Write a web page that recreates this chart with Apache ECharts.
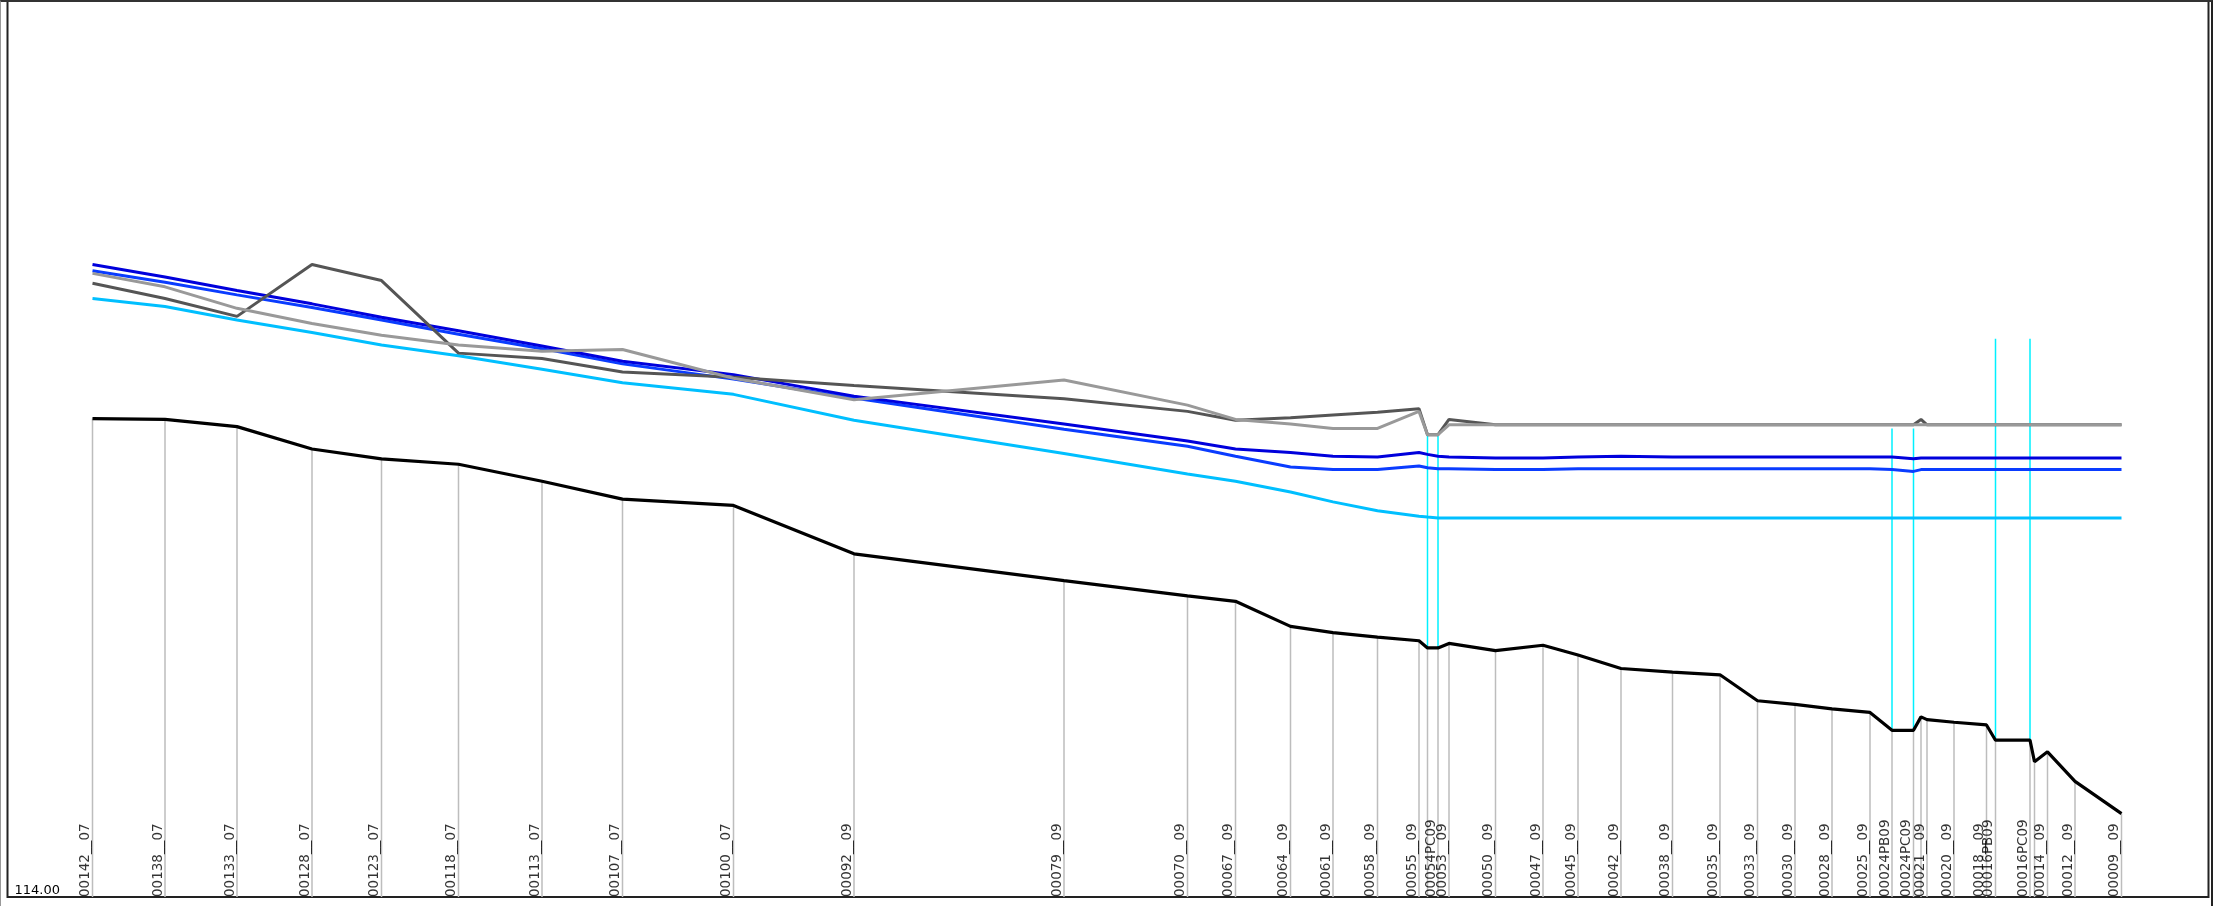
<!DOCTYPE html>
<html>
<head>
<meta charset="utf-8">
<script src="https://cdn.jsdelivr.net/npm/echarts@6/dist/echarts.min.js"></script>
<style>
  html, body { margin: 0; padding: 0; background: #fff; }
  #chart { position: absolute; left: 0; top: 0; width: 2215px; height: 906px; }
  #frame { position: absolute; left: 0; top: 0; width: 2213px; height: 906px; box-sizing: border-box;
           border-top: 2px solid #333; border-left: 1px solid #999; border-right: 2px solid #222; pointer-events: none; }
</style>
</head>
<body>
<div id="chart"></div>
<div id="frame"></div>
<script>
// Station names (empty = unlabeled node)
const stationNames = ['00142__07','00138__07','00133__07','00128__07','00123__07','00118__07','00113__07','00107__07','00100__07',
  '00092__09','00079__09','00070__09','00067__09','00064__09','00061__09','00058__09','00055__09','','00054PC09','00053__09',
  '00050__09','00047__09','00045__09','00042__09','00038__09','00035__09','00033__09','00030__09','00028__09','00025__09',
  '00024PB09','00024PC09','','00021__09','00020__09','00018__09','00016PB09','00016PC09','','00014__09','00012__09','00009__09'];

// Chainage of each station (m)
const distance = [170,315,459,609,748,902,1069,1230,1452,1693,2113,2360,2456,2566,2651,2740,2823,2840,2861,2883,
  2976,3071,3141,3227,3330,3425,3500,3575,3649,3725,3769,3812,3827,3839,3893,3958,3976,4045,4054,4080,4135,4228];

// Invert / bottom profile (black)
const invert = [119.34,119.33,119.25,119.00,118.89,118.83,118.64,118.44,118.37,117.83,117.53,117.36,117.30,117.02,116.95,116.90,116.86,116.78,116.78,116.83,
  116.75,116.81,116.70,116.55,116.51,116.48,116.19,116.15,116.10,116.06,115.86,115.86,116.01,115.98,115.95,115.92,115.75,115.75,115.51,115.62,115.29,114.93];

// Dark blue level
const levelDarkBlue = [121.06,120.92,120.77,120.62,120.47,120.32,120.15,119.98,119.83,119.59,119.28,119.09,119.00,118.96,118.92,118.91,118.96,118.94,118.92,118.91,
  118.90,118.90,118.91,118.92,118.91,118.91,118.91,118.91,118.91,118.91,118.91,118.89,118.90,118.90,118.90,118.90,118.90,118.90,118.90,118.90,118.90,118.90];

// Blue level
const levelBlue = [120.99,120.86,120.72,120.58,120.44,120.28,120.12,119.95,119.78,119.57,119.22,119.03,118.92,118.80,118.77,118.77,118.81,118.79,118.78,118.78,
  118.77,118.77,118.78,118.78,118.78,118.78,118.78,118.78,118.78,118.78,118.77,118.75,118.77,118.77,118.77,118.77,118.77,118.77,118.77,118.77,118.77,118.77];

// Light blue level
const levelCyan = [120.68,120.59,120.44,120.30,120.16,120.04,119.89,119.74,119.61,119.32,118.95,118.72,118.64,118.52,118.41,118.31,118.25,118.24,118.23,118.23,
  118.23,118.23,118.23,118.23,118.23,118.23,118.23,118.23,118.23,118.23,118.23,118.23,118.23,118.23,118.23,118.23,118.23,118.23,118.23,118.23,118.23,118.23];

// Dark gray level
const levelDarkGray = [120.85,120.68,120.48,121.06,120.88,120.07,120.01,119.86,119.80,119.71,119.56,119.42,119.32,119.35,119.38,119.41,119.45,119.16,119.16,119.33,
  119.27,119.27,119.27,119.27,119.27,119.27,119.27,119.27,119.27,119.27,119.27,119.27,119.33,119.27,119.27,119.27,119.27,119.27,119.27,119.27,119.27,119.27];

// Light gray level
const levelLightGray = [120.96,120.81,120.57,120.40,120.27,120.16,120.09,120.11,119.79,119.55,119.77,119.49,119.33,119.28,119.23,119.23,119.42,119.16,119.16,119.27,
  119.27,119.27,119.27,119.27,119.27,119.27,119.27,119.27,119.27,119.27,119.27,119.27,119.27,119.27,119.27,119.27,119.27,119.27,119.27,119.27,119.27,119.27];

// Pump/structure verticals: station index and top level
const pumpIndex = [17,18,30,31,36,37];
const pumpTop = [119.17,119.17,119.23,119.23,120.23,120.23];

// Y axis
const yMin = 114;
const yMax = 124;
const yTickLabels = ['114.00'];

const pairs = arr => distance.map((d, i) => [d, arr[i]]);

function vline(color, width) {
  return function (params, api) {
    const p1 = api.coord([api.value(0), api.value(1)]);
    const p2 = api.coord([api.value(0), api.value(2)]);
    return { type: 'line', shape: { x1: p1[0], y1: p1[1], x2: p2[0], y2: p2[1] },
             style: { stroke: color, lineWidth: width } };
  };
}

const lineSeries = (name, arr, color, width, z) => ({
  name, type: 'line', data: pairs(arr), showSymbol: false, symbol: 'none',
  lineStyle: { color, width }, z, silent: true, animation: false
});

const chart = echarts.init(document.getElementById('chart'), null, { renderer: 'canvas' });
chart.setOption({
  animation: false,
  backgroundColor: '#fff',
  grid: { left: 7.5, right: 6.5, top: 1, bottom: 9, show: true, borderColor: '#222', borderWidth: 2, backgroundColor: 'transparent' },
  xAxis: { type: 'value', min: 0, max: 4402, show: false },
  yAxis: {
    type: 'value', min: yMin, max: yMax, interval: 10,
    axisLine: { show: false }, axisTick: { show: false }, splitLine: { show: false },
    axisLabel: {
      inside: true, margin: 7, verticalAlign: 'bottom', color: '#000',
      fontFamily: 'DejaVu Sans', fontSize: 13,
      formatter: v => (v === yMin ? yTickLabels[0] : '')
    }
  },
  series: [
    { type: 'custom', renderItem: vline('#bdbdbd', 1.5), data: distance.map((d, i) => [d, invert[i], yMin]), z: 1, silent: true, animation: false },
    { type: 'custom', renderItem: vline('#00f0ff', 1.5), data: pumpIndex.map((k, j) => [distance[k], invert[k], pumpTop[j]]), z: 2, silent: true, animation: false },
    lineSeries('cyan', levelCyan, '#00bfff', 3, 3),
    lineSeries('blue', levelBlue, '#0a3cff', 3, 4),
    lineSeries('darkblue', levelDarkBlue, '#0000dc', 3, 5),
    lineSeries('darkgray', levelDarkGray, '#555555', 3, 6),
    lineSeries('lightgray', levelLightGray, '#999999', 3, 7),
    lineSeries('invert', invert, '#000000', 3.2, 8),
    {
      type: 'scatter', symbolSize: 1, itemStyle: { color: 'rgba(0,0,0,0)' }, z: 9, silent: true, animation: false,
      data: distance.map((d, i) => ({ name: stationNames[i], value: [d, yMin] })),
      label: {
        show: true, formatter: '{b}', rotate: 90, position: [0.5, 0.5], offset: [5, 0],
        align: 'left', verticalAlign: 'bottom', color: '#000',
        fontFamily: 'DejaVu Sans', fontSize: 13.5
      },
      labelLayout: { hideOverlap: false }
    }
  ]
});
</script>
</body>
</html>
